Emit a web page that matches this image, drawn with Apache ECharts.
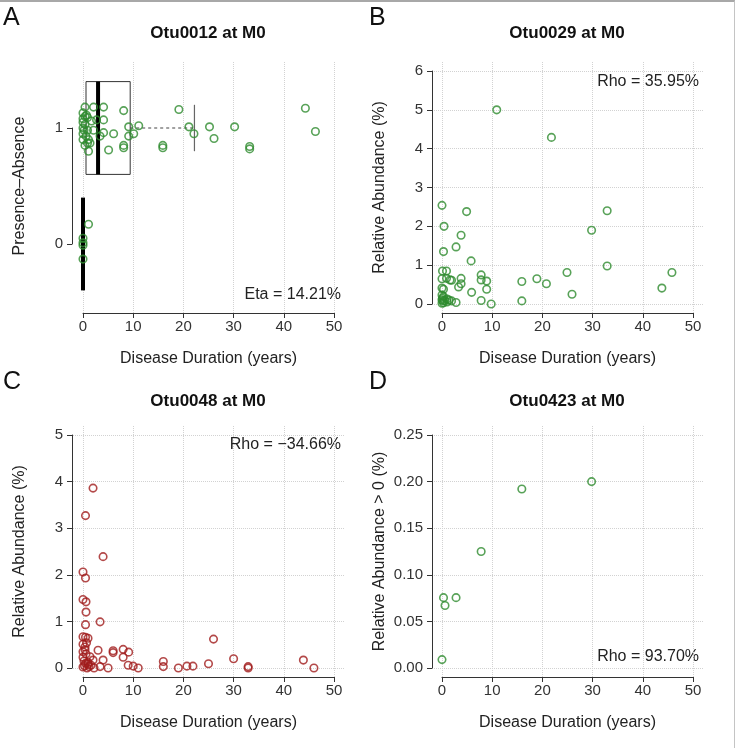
<!DOCTYPE html>
<html><head><meta charset="utf-8">
<script src="https://cdn.jsdelivr.net/npm/echarts@6/dist/echarts.min.js"></script>
<style>
html,body{margin:0;padding:0;background:#fff}
#wrap{position:relative;width:736px;height:748px}
#c{width:736px;height:748px}
#frame{position:absolute;left:0;top:0;width:735px;height:748px;border-top:2px solid #a8a8a8;border-right:1px solid #c4c4c4;box-sizing:border-box;pointer-events:none}
</style>
</head><body><div id="wrap"><div id="c"></div><div id="frame"></div></div>
<script>
// ---------------- data ----------------
const xTicks = [0, 10, 20, 30, 40, 50];
// Panel A: Otu0012 presence (1) / absence (0), y jittered
const otu0012Present = [[0.4,1.18],[2.1,1.18],[4.1,1.18],[8.1,1.15],[19.1,1.16],[0,1.13],[0,1.08],[0.4,1.10],[0.9,1.09],[0.7,1.11],[2.7,1.07],[4.1,1.07],[1.7,1.06],[0,1.05],[0.4,1.03],[0,1.0],[0.2,0.98],[0.9,0.98],[2.1,0.98],[0,0.95],[0.6,0.93],[3.4,0.93],[4.1,0.96],[6.1,0.95],[1.1,0.90],[0,0.90],[0.4,0.85],[1.4,0.87],[0.9,0.87],[1.1,0.80],[5.1,0.81],[8.1,0.85],[8.1,0.83],[9.1,1.01],[9.1,0.93],[10.1,0.95],[11.1,1.02],[15.9,0.85],[15.9,0.83],[21.1,1.01],[22.1,0.95],[25.2,1.01],[26.1,0.91],[30.2,1.01],[33.2,0.84],[33.2,0.82],[44.3,1.17],[46.3,0.97]];
const otu0012Absent = [[1.1,0.17],[0,0.05],[0,0.01],[0,-0.01],[0,-0.13]];
// boxplot stats: [lowerWhisker, Q1, median, Q3, upperWhisker, group]
const otu0012Box = [[0,0.6,3.0,9.4,22.2,1],[0,0,0,0,0,0]];
const etaLabel = 'Eta = 14.21%';
// Panel B: Otu0029
const otu0029 = [[10.9,5.00],[21.8,4.29],[0,2.54],[4.9,2.38],[0.4,2.0],[3.8,1.77],[2.8,1.47],[0.3,1.35],[5.8,1.11],[29.8,1.90],[32.9,2.40],[32.9,0.98],[24.9,0.81],[25.9,0.25],[45.8,0.81],[43.8,0.41],[15.9,0.58],[15.9,0.08],[18.9,0.65],[20.8,0.52],[7.8,0.75],[7.8,0.62],[8.9,0.59],[8.9,0.38],[7.8,0.09],[9.8,0.0],[5.9,0.30],[3.8,0.66],[3.8,0.52],[3.3,0.44],[2.8,0.04],[0,0.65],[0.1,0.85],[0.9,0.85],[0.9,0.66],[1.6,0.62],[1.9,0.61],[0,0.41],[0.3,0.38],[0,0.23],[0,0.11],[0.2,0.08],[0.3,0.03],[0,0.02],[1.0,0.13],[1.0,0.05],[1.4,0.10],[1.9,0.08],[0.1,0.15],[0.3,0.19],[0.5,0.09]];
const rhoB = 'Rho = 35.95%';
// Panel C: Otu0048
const otu0048 = [[2.0,3.86],[0.5,3.27],[4.0,2.39],[0,2.06],[0.5,1.93],[0,1.47],[0.6,1.42],[0.6,1.20],[3.4,0.99],[0.5,0.93],[0,0.67],[0.5,0.66],[1.0,0.64],[0.7,0.54],[0,0.51],[3.0,0.38],[0.4,0.39],[6.0,0.37],[6.0,0.33],[8.0,0.40],[9.1,0.34],[8.0,0.23],[1.4,0.24],[0,0.23],[4.0,0.17],[2.0,0.17],[9.0,0.06],[10.0,0.04],[11.0,0.0],[5.0,0.0],[3.4,0.03],[2.2,0.0],[16.0,0.14],[16.0,0.03],[19.0,0.0],[20.7,0.04],[21.9,0.04],[25.0,0.09],[26.0,0.62],[30.0,0.20],[32.9,0.03],[32.9,0.0],[43.9,0.17],[46.0,0.0],[0,0.02],[0.3,0.05],[0.5,0.10],[0.8,0.0],[1.0,0.08],[1.2,0.03],[0.2,0.15],[1.6,0.06],[0.6,0.30],[1.0,0.12],[0,0.35],[0.4,0.45]];
const rhoC = 'Rho = \u221234.66%';
// Panel D: Otu0423
const otu0423 = [[0,0.009],[0.3,0.0755],[0.6,0.067],[2.8,0.0755],[7.8,0.125],[15.9,0.192],[29.8,0.200]];
const rhoD = 'Rho = 93.70%';

// ---------------- styling ----------------
const FONT = '"Liberation Sans", Arial, Helvetica, sans-serif';
const GREEN = '#2e8b2e', RED = '#a01c1c', AX = '#333';
const GRIDLINE = {show:true, lineStyle:{color:'#d2d2d2', type:'dotted', width:1}};

function g(left, top, width, height){
  return {left, top, width, height, containLabel:false, outerBoundsMode:'none', show:false};
}
const grids = [
  g(83, 128, 251, 116),   // 0 A data
  g(442, 71, 251, 233),   // 1 B data
  g(83, 435, 251, 233),   // 2 C data
  g(442, 435, 251, 233),  // 3 D data
  g(83, 62, 251, 251),    // 4 A vertical lines
  g(442, 62, 251, 251),   // 5 B vertical lines
  g(432, 71, 271, 233),   // 6 B horizontal lines
  g(83, 426, 251, 251),   // 7 C vertical lines
  g(73, 435, 271, 233),   // 8 C horizontal lines
  g(442, 426, 251, 251),  // 9 D vertical lines
  g(432, 435, 271, 233)   // 10 D horizontal lines
];

function dataX(gi, offset){
  return {gridIndex:gi, type:'value', min:xTicks[0], max:xTicks[xTicks.length-1], interval:10, offset,
    axisLine:{show:true, onZero:false, lineStyle:{color:AX, width:1}},
    axisTick:{show:true, length:5, lineStyle:{color:AX}},
    axisLabel:{fontSize:15, color:AX, margin:6, fontFamily:FONT},
    splitLine:{show:false},
    name:'Disease Duration (years)', nameLocation:'middle', nameGap:38,
    nameTextStyle:{fontSize:16, color:'#222', fontFamily:FONT}};
}
function dataY(gi, min, max, interval, offset, name, fmt){
  return {gridIndex:gi, type:'value', min, max, interval, offset,
    axisLine:{show:true, onZero:false, lineStyle:{color:AX, width:1}},
    axisTick:{show:true, length:5, lineStyle:{color:AX}},
    axisLabel:{fontSize:15, color:AX, margin:9, fontFamily:FONT, formatter:fmt},
    splitLine:{show:false},
    name, nameLocation:'middle', nameGap:44,
    nameTextStyle:{fontSize:16, color:'#222', fontFamily:FONT}};
}
function lineX(gi, show){
  return {gridIndex:gi, type:'value', min:0, max:50, interval:10,
    axisLine:{show:false}, axisTick:{show:false}, axisLabel:{show:false},
    splitLine: show ? GRIDLINE : {show:false}};
}
function lineY(gi, min, max, interval, show){
  return {gridIndex:gi, type:'value', min, max, interval,
    axisLine:{show:false}, axisTick:{show:false}, axisLabel:{show:false},
    splitLine: show ? GRIDLINE : {show:false}};
}

const xAxes = [
  dataX(0, 69), dataX(1, 9), dataX(2, 9), dataX(3, 9),
  lineX(4, true), lineX(5, true), lineX(6, false), lineX(7, true), lineX(8, false), lineX(9, true), lineX(10, false)
];
const yAxes = [
  dataY(0, 0, 1, 1, 11, 'Presence\u2013Absence'),
  dataY(1, 0, 6, 1, 10, 'Relative Abundance (%)'),
  dataY(2, 0, 5, 1, 11, 'Relative Abundance (%)'),
  dataY(3, 0, 0.25, 0.05, 10, 'Relative Abundance > 0 (%)', v => v.toFixed(2)),
  lineY(4, 0, 1, 1, false), lineY(5, 0, 6, 1, false), lineY(6, 0, 6, 1, true),
  lineY(7, 0, 5, 1, false), lineY(8, 0, 5, 1, true),
  lineY(9, 0, 0.25, 0.05, false), lineY(10, 0, 0.25, 0.05, true)
];

function scatter(ai, data, color){
  return {type:'scatter', xAxisIndex:ai, yAxisIndex:ai, data, clip:false, z:3,
    symbol:'circle', symbolSize:7.5, silent:true,
    itemStyle:{color:'rgba(0,0,0,0)', borderColor:color, borderWidth:1.6}};
}

function renderBox(params, api){
  const lo = api.value(0), q1 = api.value(1), med = api.value(2), q3 = api.value(3), hi = api.value(4), gp = api.value(5);
  const hw = 0.4, cap = 0.2;
  const children = [];
  const c = (x, y) => api.coord([x, y]);
  if (q3 > q1){
    const a = c(q1, gp + hw), b = c(q3, gp - hw);
    children.push({type:'rect', shape:{x:a[0], y:a[1], width:b[0]-a[0], height:b[1]-a[1]},
      style:{fill:'none', stroke:'#333', lineWidth:1}});
  }
  if (hi > q3){
    const p1 = c(q3, gp), p2 = c(hi, gp);
    children.push({type:'line', shape:{x1:p1[0], y1:p1[1], x2:p2[0], y2:p2[1]},
      style:{stroke:'#444', lineWidth:1, lineDash:[3,3]}});
    const t = c(hi, gp + cap), bt = c(hi, gp - cap);
    children.push({type:'line', shape:{x1:t[0], y1:t[1], x2:bt[0], y2:bt[1]}, style:{stroke:'#666', lineWidth:1.2}});
  }
  if (q1 > lo){
    const p1 = c(lo, gp), p2 = c(q1, gp);
    children.push({type:'line', shape:{x1:p1[0], y1:p1[1], x2:p2[0], y2:p2[1]},
      style:{stroke:'#444', lineWidth:1, lineDash:[3,3]}});
  }
  const m1 = c(med, gp + hw), m2 = c(med, gp - hw);
  children.push({type:'line', shape:{x1:m1[0], y1:m1[1], x2:m2[0], y2:m2[1]}, style:{stroke:'#000', lineWidth:4}});
  return {type:'group', children};
}

function titleAt(text, x, y, size, bold){
  return {text, left:x, top:y, textAlign: bold ? 'center' : 'left', padding:0,
    textStyle:{fontSize:size, fontWeight: bold ? 'bold' : 'normal', color:'#111', fontFamily:FONT}};
}
function note(text, right, top){
  return {type:'text', right, top, silent:true,
    style:{text, fill:'#222', font:'16px ' + FONT}};
}

const option = {
  backgroundColor:'#fff',
  animation:false,
  title:[
    titleAt('A', 3, 6, 25, false), titleAt('B', 369, 6, 25, false),
    titleAt('C', 3, 370, 25, false), titleAt('D', 369, 370, 25, false),
    titleAt('Otu0012 at M0', 208, 25, 17, true), titleAt('Otu0029 at M0', 567, 25, 17, true),
    titleAt('Otu0048 at M0', 208, 393, 17, true), titleAt('Otu0423 at M0', 567, 393, 17, true)
  ],
  grid: grids,
  xAxis: xAxes,
  yAxis: yAxes,
  graphic: [note(etaLabel, 395, 287), note(rhoB, 37, 74), note(rhoC, 395, 437), note(rhoD, 37, 649)],
  series:[
    {type:'custom', xAxisIndex:0, yAxisIndex:0, data:otu0012Box, renderItem:renderBox, z:1, silent:true, clip:false},
    scatter(0, otu0012Present, GREEN),
    scatter(0, otu0012Absent, GREEN),
    scatter(1, otu0029, GREEN),
    scatter(2, otu0048, RED),
    scatter(3, otu0423, GREEN)
  ]
};
const chart = echarts.init(document.getElementById('c'), null, {renderer:'canvas'});
chart.setOption(option);
</script>
</body></html>
